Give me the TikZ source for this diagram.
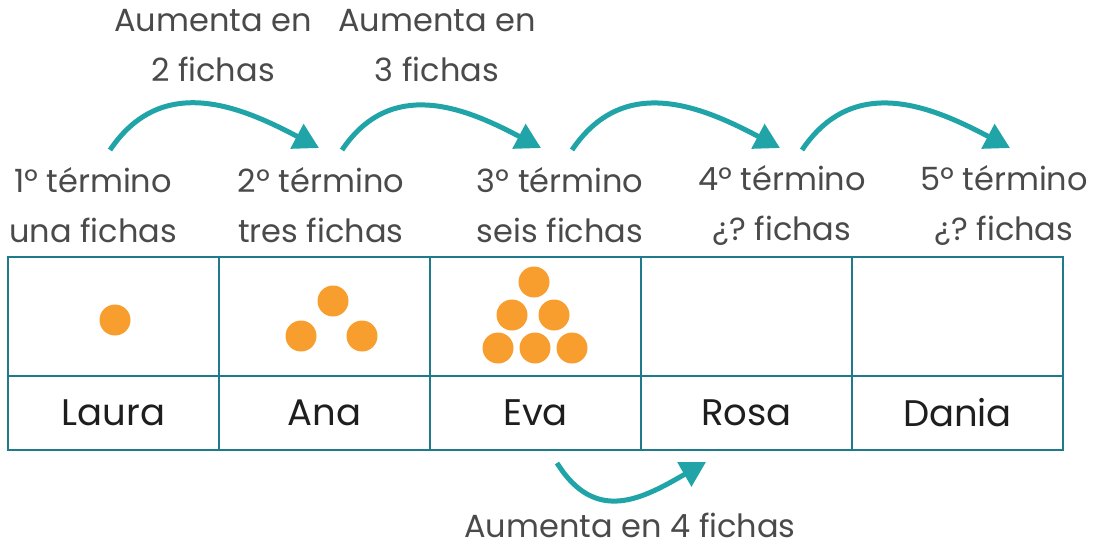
\documentclass[tikz,border=0pt]{standalone}
\usepackage{fontspec}
\setmainfont{Poppins}
\usetikzlibrary{arrows.meta}
\frenchspacing
\definecolor{gridc}{HTML}{1F7A8C}
\definecolor{arrc}{HTML}{20A4A8}
\definecolor{dotc}{HTML}{F79E2F}
\definecolor{txtc}{HTML}{4A4A4A}
\definecolor{namec}{HTML}{1E1E1E}
\begin{document}
\begin{tikzpicture}[x=1pt,y=-1pt,
  cell/.style={draw=gridc,line width=2.6pt,minimum width=211pt,minimum height=119pt,inner sep=0pt},
  namecell/.style={draw=gridc,line width=2.6pt,minimum width=211pt,minimum height=74pt,inner sep=0pt,font=\fontsize{37}{44}\selectfont,text=namec},
  lbl/.style={font=\fontsize{32}{50}\selectfont,text=txtc,align=center,inner sep=0pt},
  dot/.style={circle,fill=dotc,minimum size=31pt,inner sep=0pt},
  jump/.style={draw=arrc,line width=5pt,-{Triangle[length=25pt,width=27pt]}}]
\useasboundingbox (0,0) rectangle (1093,550);
% table
\foreach \i/\x in {1/113.5,2/324.5,3/535.5,4/746.5,5/957.5}{
  \node[cell] (t\i) at (\x,316.5) {};
}
\node[namecell] (n1) at (113.5,413) {Laura};
\node[namecell] (n2) at (324.5,413) {Ana};
\node[namecell] (n3) at (535.5,413) {Eva};
\node[namecell] (n4) at (746.5,413) {Rosa};
\node[namecell] (n5) at (957.5,413) {Dania};
% dots
\node[dot] (d11) at (115,320) {};
\node[dot] (d21) at (333,301) {};
\node[dot] (d22) at (301,336) {};
\node[dot] (d23) at (362,336) {};
\node[dot] (d31) at (534,282) {};
\node[dot] (d32) at (512,315) {};
\node[dot] (d33) at (554,315) {};
\node[dot] (d34) at (498,348) {};
\node[dot] (d35) at (535,348) {};
\node[dot] (d36) at (572,348) {};
% term labels
\node[lbl] (l1) at (93,205) {1º término\\una fichas};
\node[lbl] (l2) at (321,205) {2º término\\tres fichas};
\node[lbl] (l3) at (560,205) {3º término\\seis fichas};
\node[lbl] (l4) at (782,205) {4º término\\¿? fichas};
\node[lbl] (l5) at (1004,205) {5º término\\¿? fichas};
% increase labels
\node[lbl] (u1) at (213,46) {Aumenta en\\2 fichas};
\node[lbl] (u2) at (437,46) {Aumenta en\\3 fichas};
\node[lbl,anchor=base,text depth=0pt] (u3) at (630,537) {Aumenta en 4 fichas};
% arrow ends
\coordinate (a1s) at (110,150);
\coordinate (a1e) at (319,148);
\coordinate (a2s) at (342,150);
\coordinate (a2e) at (541,148);
\coordinate (a3s) at (572,150);
\coordinate (a3e) at (780,148);
\coordinate (a4s) at (802,150);
\coordinate (a4e) at (1010,148);
\coordinate (b1s) at (557,463);
\coordinate (b1e) at (706,462);
\draw[jump] (a1s) to[out=56,in=152,looseness=1.12] (a1e);
\draw[jump] (a2s) to[out=56,in=152,looseness=1.12] (a2e);
\draw[jump] (a3s) to[out=56,in=152,looseness=1.12] (a3e);
\draw[jump] (a4s) to[out=56,in=152,looseness=1.12] (a4e);
\draw[jump] (b1s) to[out=-58,in=-150,looseness=1.25] (b1e);
\end{tikzpicture}
\end{document}
